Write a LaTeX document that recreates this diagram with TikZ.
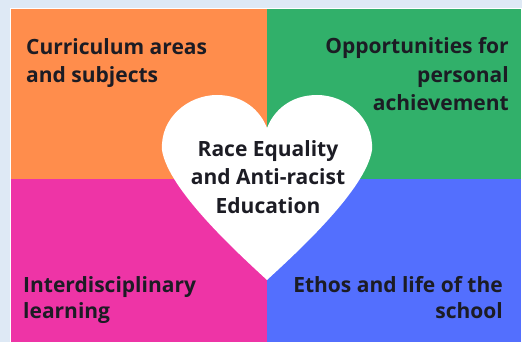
\documentclass[tikz,border=0pt]{standalone}
\usepackage{fontspec}
\setmainfont{Open Sans}
\definecolor{bgblue}{HTML}{DEE9F5}
\definecolor{qorange}{HTML}{FF8D4C}
\definecolor{qgreen}{HTML}{31B06A}
\definecolor{qpink}{HTML}{EE34A6}
\definecolor{qblue}{HTML}{536FFE}
\definecolor{txt}{HTML}{1C1C24}
\begin{document}
\begin{tikzpicture}[x=1pt,y=-1pt,
  lbl/.style={font=\bfseries\fontsize{21}{28.5}\selectfont, text=txt, inner sep=0pt},
  lbltight/.style={font=\bfseries\fontsize{21}{25.5}\selectfont, text=txt, inner sep=0pt}]
\useasboundingbox (0,0) rectangle (522,342);
\fill[bgblue] (0,0) rectangle (522,342);
\fill[white] (9.5,8) rectangle (522,342);
\fill[qorange] (11,9.5) rectangle (267,179);
\fill[qgreen] (267,9.5) rectangle (521,179);
\fill[qpink] (11,179) rectangle (267,342);
\fill[qblue] (267,179) rectangle (521,342);
% heart
\fill[white] (267,280) .. controls (240,255) and (168,190) .. (162,150)
  .. controls (160,118) and (188,95) .. (217,95)
  .. controls (243,95) and (260,110) .. (267,128)
  .. controls (274,110) and (291,95) .. (317,95)
  .. controls (346,95) and (374,118) .. (372,150)
  .. controls (366,190) and (294,255) .. (267,280) -- cycle;
\node[lbl, anchor=base west, align=left] (tl) at (26,83) {Curriculum areas\\and subjects};
\node[lbl, anchor=base east, align=right] (tr) at (509,111) {Opportunities for\\personal\\achievement};
\node[lbl, anchor=base, align=center] (ctr) at (268,213) {Race Equality\\and Anti-racist\\Education};
\node[lbltight, anchor=base west, align=left] (bl) at (23,318) {Interdisciplinary\\learning};
\node[lbltight, anchor=base east, align=right] (br) at (503,318) {Ethos and life of the\\school};
\end{tikzpicture}
\end{document}
